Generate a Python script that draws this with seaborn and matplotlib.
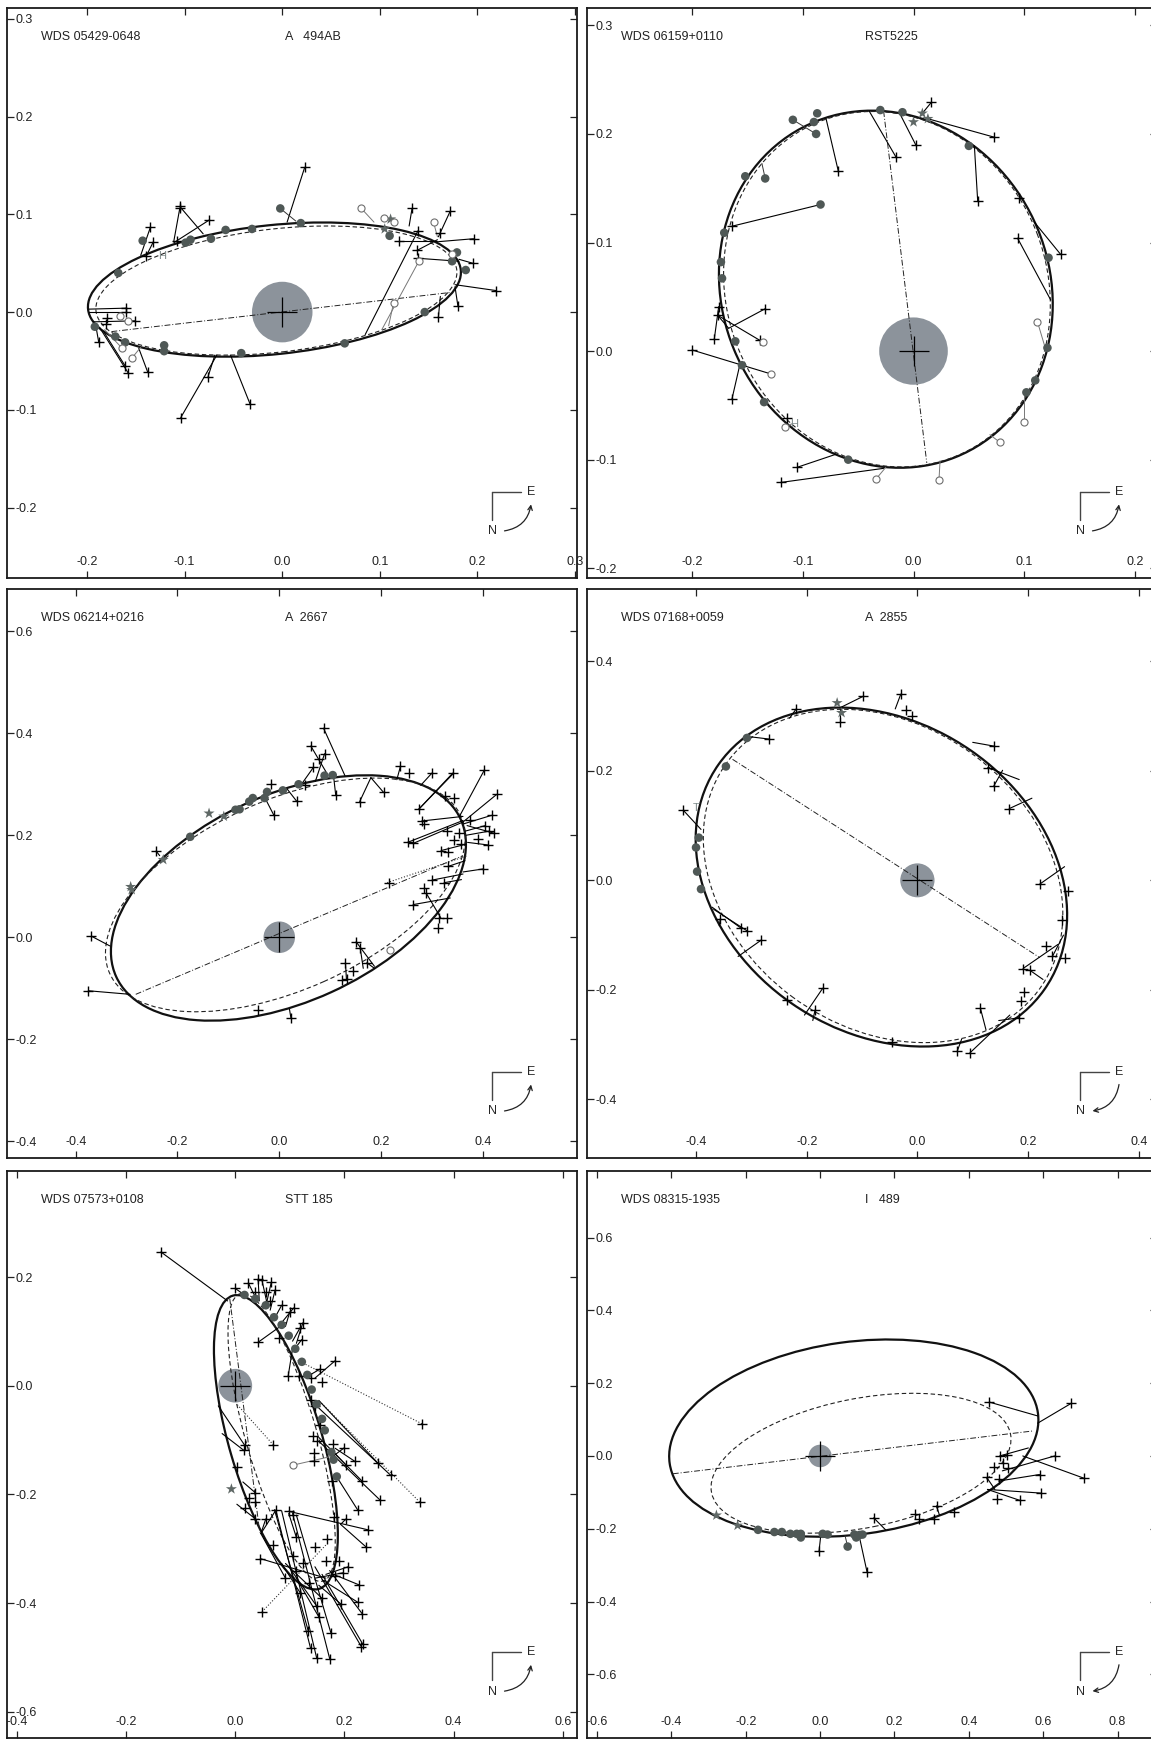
import matplotlib
matplotlib.use("Agg")
import matplotlib.pyplot as plt
import seaborn as sns
from matplotlib.patches import Ellipse, Circle, FancyArrowPatch

sns.set_style("ticks")
plt.rcParams['font.family'] = ['Liberation Sans', 'DejaVu Sans']
plt.rcParams['axes.unicode_minus'] = False

# ---- panel 1 : WDS 05429-0648  A 494AB ----
p1_orbit = (-0.008, 0.023, 0.384, 0.132, 6)
p1_old = (-0.006, 0.022, 0.372, 0.126, 6.5)
p1_nodes = [(-0.175, -0.020), (0.172, 0.020)]
p1_dots = [(-0.002, 0.106), (0.019, 0.091), (-0.031, 0.085), (-0.058, 0.084), (-0.073, 0.075),
           (-0.094, 0.074), (-0.099, 0.071), (-0.143, 0.073), (-0.168, 0.040), (-0.192, -0.015),
           (-0.171, -0.025), (-0.161, -0.031), (-0.121, -0.034), (-0.121, -0.040), (-0.042, -0.042),
           (0.064, -0.032), (0.146, 0.000), (0.110, 0.078), (0.179, 0.061), (0.174, 0.052), (0.188, 0.043)]
p1_dot_res = [(-0.002, 0.106, 0.014, 0.093)]
p1_rings = [(0.081, 0.106), (0.104, 0.096), (0.114, 0.092), (0.155, 0.092), (0.174, 0.059),
            (0.140, 0.052), (0.114, 0.009), (-0.166, -0.004), (-0.158, -0.009), (-0.164, -0.037),
            (-0.154, -0.047)]
p1_ring_res = [(0.081, 0.106, 0.094, 0.092), (0.155, 0.092, 0.159, 0.077), (0.140, 0.052, 0.102, -0.018),
               (0.114, 0.009, 0.109, -0.014), (-0.164, -0.037, -0.182, -0.018), (-0.154, -0.047, -0.145, -0.036)]
p1_stars = [(0.105, 0.085), (0.111, 0.095)]
p1_hip = [(-0.123, 0.057)]
p1_plus = [
    (0.023, 0.148, 0.005, 0.092), (-0.105, 0.108, -0.081, 0.080), (-0.105, 0.106, -0.111, 0.073),
    (-0.075, 0.094, -0.111, 0.071), (-0.135, 0.087, -0.145, 0.058), (-0.132, 0.072, -0.139, 0.058),
    (-0.140, 0.057, None, None), (-0.108, 0.073, None, None), (0.133, 0.106, 0.130, 0.088),
    (0.172, 0.103, 0.160, 0.077), (0.162, 0.081, None, None), (0.120, 0.073, 0.159, 0.073),
    (0.196, 0.075, 0.160, 0.072), (0.138, 0.063, 0.159, 0.074), (0.139, 0.055, 0.181, 0.052),
    (0.195, 0.050, 0.181, 0.054), (0.219, 0.022, 0.177, 0.028), (0.180, 0.006, 0.177, 0.026),
    (0.160, -0.005, 0.162, 0.016), (0.139, 0.083, 0.085, -0.023), (-0.160, 0.004, -0.198, 0.003),
    (-0.160, 0.000, -0.198, 0.000), (-0.151, -0.009, -0.194, -0.010), (-0.180, -0.006, None, None),
    (-0.181, -0.012, None, None), (-0.188, -0.031, -0.191, -0.014), (-0.161, -0.055, -0.183, -0.020),
    (-0.158, -0.062, -0.187, -0.016), (-0.138, -0.061, -0.147, -0.037), (-0.076, -0.066, -0.069, -0.044),
    (-0.104, -0.108, -0.067, -0.044), (-0.033, -0.094, -0.053, -0.044)]

# ---- panel 2 : WDS 06159+0110  RST5225 ----
p2_orbit = (-0.025, 0.057, 0.334, 0.296, 112)
p2_old = (-0.024, 0.057, 0.332, 0.290, 110)
p2_nodes = [(-0.027, 0.221), (0.012, -0.103)]
p2_dots = [(-0.109, 0.213), (-0.087, 0.219), (-0.090, 0.211), (-0.088, 0.200), (-0.030, 0.222),
           (-0.010, 0.220), (0.050, 0.189), (-0.152, 0.161), (-0.134, 0.159), (-0.084, 0.135),
           (-0.171, 0.109), (-0.174, 0.082), (-0.173, 0.067), (-0.161, 0.009), (-0.155, -0.013),
           (-0.135, -0.047), (-0.059, -0.100), (0.122, 0.086), (0.121, 0.003), (0.110, -0.027),
           (0.102, -0.038)]
p2_dot_res = [(-0.134, 0.159, -0.137, 0.173), (-0.109, 0.213, -0.088, 0.200)]
p2_rings = [(-0.136, 0.008), (-0.129, -0.021), (-0.116, -0.070), (-0.034, -0.118), (0.023, -0.119),
            (0.078, -0.084), (0.100, -0.065), (0.112, 0.027)]
p2_ring_res = [(-0.034, -0.118, -0.025, -0.107), (0.023, -0.119, 0.024, -0.101), (0.078, -0.084, 0.069, -0.077),
               (0.100, -0.065, 0.100, -0.040), (0.112, 0.027, 0.119, 0.003), (-0.116, -0.070, -0.110, -0.067)]
p2_stars = [(0.008, 0.219), (0.000, 0.211), (0.013, 0.214)]
p2_hip = [(-0.108, -0.067)]
p2_plus = [
    (0.016, 0.229, 0.008, 0.219), (0.002, 0.190, -0.013, 0.220), (-0.016, 0.179, -0.040, 0.221),
    (-0.068, 0.166, -0.079, 0.214), (0.073, 0.197, 0.013, 0.214), (0.058, 0.138, 0.055, 0.189),
    (0.095, 0.141, None, None), (0.133, 0.089, 0.109, 0.119), (0.094, 0.104, 0.124, 0.047),
    (-0.164, 0.115, -0.084, 0.135), (-0.176, 0.041, None, None), (-0.177, 0.033, -0.167, 0.021),
    (-0.180, 0.011, -0.176, 0.041), (-0.134, 0.039, -0.167, 0.021), (-0.139, 0.010, -0.177, 0.033),
    (-0.200, 0.001, -0.129, -0.021), (-0.164, -0.044, -0.157, -0.013), (-0.114, -0.062, None, None),
    (-0.105, -0.107, -0.070, -0.095), (-0.120, -0.121, -0.027, -0.108)]

# ---- panel 3 : WDS 06214+0216  A 2667 ----
p3_orbit = (0.018, 0.077, 0.744, 0.406, 24.5)
p3_old = (0.012, 0.083, 0.756, 0.372, 24)
p3_nodes = [(-0.282, -0.112), (0.361, 0.160)]
p3_dotted = [(0.212, 0.107, 0.370, 0.160)]
p3_dots = [(-0.175, 0.197), (-0.086, 0.250), (-0.078, 0.251), (-0.059, 0.266), (-0.052, 0.273),
           (-0.029, 0.273), (-0.024, 0.285), (0.007, 0.288), (0.038, 0.300), (0.089, 0.317), (0.105, 0.318)]
p3_rings = [(0.217, -0.026)]
p3_stars = [(-0.138, 0.243), (-0.109, 0.237), (-0.228, 0.152), (-0.292, 0.099), (-0.290, 0.093)]
p3_plus = [
    (0.087, 0.410, 0.129, 0.317), (0.062, 0.375, 0.092, 0.324), (0.089, 0.360, 0.071, 0.306),
    (0.067, 0.333, 0.045, 0.302), (0.078, 0.349, None, None), (-0.017, 0.301, None, None),
    (-0.011, 0.240, -0.028, 0.273), (0.034, 0.267, 0.016, 0.290), (0.111, 0.278, 0.107, 0.313),
    (0.051, 0.298, None, None), (0.158, 0.266, 0.180, 0.313), (0.205, 0.284, 0.180, 0.313),
    (0.238, 0.335, 0.231, 0.309), (0.255, 0.322, None, None), (0.300, 0.322, 0.278, 0.298),
    (0.341, 0.322, 0.274, 0.251), (0.274, 0.251, 0.341, 0.320), (0.325, 0.277, None, None),
    (0.343, 0.273, None, None), (0.403, 0.328, 0.354, 0.237), (0.427, 0.280, 0.361, 0.226),
    (0.417, 0.239, 0.361, 0.222), (0.280, 0.228, 0.361, 0.237), (0.285, 0.222, None, None),
    (0.375, 0.229, None, None), (0.252, 0.186, 0.361, 0.229), (0.263, 0.184, 0.361, 0.226),
    (0.329, 0.208, None, None), (0.354, 0.204, None, None), (0.405, 0.219, 0.365, 0.208),
    (0.412, 0.208, 0.367, 0.200), (0.422, 0.204, 0.369, 0.219), (0.391, 0.193, None, None),
    (0.410, 0.181, 0.370, 0.186), (0.343, 0.190, None, None), (0.318, 0.170, 0.365, 0.182),
    (0.358, 0.182, None, None), (0.332, 0.168, None, None), (0.401, 0.134, 0.361, 0.128),
    (0.332, 0.139, 0.365, 0.150), (0.300, 0.112, 0.361, 0.124), (0.324, 0.107, 0.358, 0.113),
    (0.215, 0.107, None, None), (0.263, 0.064, 0.336, 0.077), (0.284, 0.097, None, None),
    (0.289, 0.086, 0.318, 0.037), (0.329, 0.038, None, None), (0.311, 0.019, None, None),
    (0.313, 0.038, None, None), (0.151, -0.009, 0.187, -0.057), (0.159, -0.021, 0.165, -0.061),
    (0.130, -0.050, 0.132, -0.083), (0.145, -0.067, None, None), (0.172, -0.050, 0.187, -0.061),
    (0.134, -0.081, None, None), (0.124, -0.083, None, None), (-0.041, -0.143, None, None),
    (0.023, -0.159, 0.020, -0.141), (-0.369, 0.002, -0.333, -0.017), (-0.375, -0.105, -0.293, -0.112),
    (-0.242, 0.169, -0.235, 0.160)]

# ---- panel 4 : WDS 07168+0059  A 2855 ----
p4_orbit = (-0.065, 0.006, 0.718, 0.564, -35)
p4_old = (-0.062, 0.008, 0.700, 0.550, -37)
p4_nodes = [(-0.334, 0.221), (0.221, -0.141)]
p4_dots = [(-0.308, 0.260), (-0.346, 0.208), (-0.395, 0.078), (-0.400, 0.060), (-0.398, 0.016), (-0.391, -0.016)]
p4_stars = [(-0.145, 0.324), (-0.137, 0.306)]
p4_tmark = [(-0.400, 0.133)]
p4_plus = [
    (-0.098, 0.336, -0.140, 0.315), (-0.030, 0.340, -0.040, 0.313), (-0.219, 0.313, -0.231, 0.296),
    (-0.268, 0.258, -0.301, 0.262), (-0.140, 0.289, -0.140, 0.313), (-0.020, 0.311, None, None),
    (-0.009, 0.300, None, None), (0.139, 0.245, 0.100, 0.252), (0.127, 0.206, 0.184, 0.184),
    (0.138, 0.172, 0.154, 0.201), (0.166, 0.131, 0.207, 0.150), (0.221, -0.007, 0.266, 0.025),
    (0.272, -0.019, None, None), (0.261, -0.073, None, None), (0.233, -0.119, None, None),
    (0.244, -0.139, 0.264, -0.100), (0.266, -0.141, None, None), (0.191, -0.161, 0.254, -0.117),
    (0.203, -0.164, 0.227, -0.181), (0.192, -0.203, None, None), (0.187, -0.221, None, None),
    (0.184, -0.251, 0.147, -0.256), (0.114, -0.234, 0.124, -0.273), (0.072, -0.312, 0.080, -0.290),
    (0.095, -0.315, 0.167, -0.246), (-0.045, -0.296, None, None), (-0.171, -0.197, -0.204, -0.246),
    (-0.185, -0.237, -0.189, -0.256), (-0.235, -0.219, None, None), (-0.282, -0.109, -0.324, -0.139),
    (-0.319, -0.087, -0.371, -0.049), (-0.308, -0.092, -0.368, -0.053), (-0.356, -0.070, -0.358, -0.083),
    (-0.423, 0.128, -0.391, 0.093)]

# ---- panel 5 : WDS 07573+0108  STT 185 ----
p5_orbit = (0.0745, -0.104, 0.562, 0.170, 106.3)
p5_old = (0.085, -0.095, 0.550, 0.130, 106)
p5_nodes = [(-0.010, 0.160), (0.045, -0.270)]
p5_dotted = [(0.342, -0.070, 0.112, 0.048), (0.338, -0.214, 0.153, -0.027),
             (0.049, -0.416, 0.166, -0.293), (0.070, -0.109, 0.003, -0.034)]
p5_dots = [(0.017, 0.167), (0.037, 0.160), (0.056, 0.148), (0.071, 0.126), (0.085, 0.112), (0.098, 0.092),
           (0.110, 0.068), (0.122, 0.044), (0.132, 0.020), (0.140, -0.007), (0.149, -0.034), (0.159, -0.061),
           (0.164, -0.082), (0.176, -0.122), (0.180, -0.136), (0.186, -0.167)]
p5_rings = [(0.106, -0.146)]
p5_ring_res = [(0.106, -0.146, 0.180, -0.129)]
p5_stars = [(-0.007, -0.190)]
p5_plus = [
    (-0.136, 0.246, -0.014, 0.156), (0.000, 0.179, 0.017, 0.167), (0.024, 0.189, 0.037, 0.163),
    (0.042, 0.196, 0.044, 0.156), (0.049, 0.194, 0.058, 0.153), (0.066, 0.190, 0.056, 0.146),
    (0.073, 0.176, 0.064, 0.139), (0.056, 0.172, None, None), (0.037, 0.173, None, None),
    (0.063, 0.155, None, None), (0.085, 0.148, 0.071, 0.122), (0.107, 0.143, 0.085, 0.116),
    (0.100, 0.136, 0.092, 0.109), (0.124, 0.116, 0.112, 0.078), (0.119, 0.107, 0.105, 0.082),
    (0.081, 0.087, None, None), (0.122, 0.085, 0.112, 0.072), (0.042, 0.080, 0.092, 0.116),
    (0.097, 0.018, 0.105, 0.068), (0.117, 0.018, None, None), (0.138, 0.014, None, None),
    (0.156, 0.031, 0.132, 0.017), (0.183, 0.046, 0.146, 0.014), (0.159, 0.007, None, None),
    (0.017, -0.109, -0.031, -0.037), (0.016, -0.119, -0.024, -0.088), (0.138, -0.027, None, None),
    (0.146, -0.037, None, None), (0.156, -0.073, None, None), (0.142, -0.092, None, None),
    (0.149, -0.102, None, None), (0.180, -0.107, None, None), (0.200, -0.114, 0.180, -0.129),
    (0.144, -0.124, None, None), (0.144, -0.139, None, None), (0.203, -0.146, 0.180, -0.122),
    (0.219, -0.139, 0.183, -0.115), (0.262, -0.143, 0.153, -0.027), (0.285, -0.165, 0.153, -0.041),
    (0.178, -0.176, None, None), (0.233, -0.176, 0.153, -0.095), (0.266, -0.211, 0.153, -0.102),
    (0.224, -0.228, 0.183, -0.163), (0.037, -0.197, 0.014, -0.177), (0.025, -0.207, None, None),
    (0.036, -0.214, None, None), (0.018, -0.224, None, None), (0.037, -0.245, 0.003, -0.218),
    (0.056, -0.245, 0.047, -0.272), (0.003, -0.150, None, None), (0.243, -0.265, 0.098, -0.231),
    (0.239, -0.296, 0.193, -0.255), (0.181, -0.241, None, None), (0.203, -0.245, 0.193, -0.255),
    (0.169, -0.282, None, None), (0.075, -0.228, 0.047, -0.272), (0.098, -0.231, None, None),
    (0.105, -0.238, None, None), (0.138, -0.483, 0.075, -0.231), (0.149, -0.500, 0.085, -0.230),
    (0.173, -0.502, 0.105, -0.235), (0.134, -0.452, 0.072, -0.228), (0.175, -0.454, 0.112, -0.238),
    (0.234, -0.476, 0.159, -0.347), (0.231, -0.480, 0.146, -0.333), (0.224, -0.398, 0.159, -0.357),
    (0.233, -0.420, 0.173, -0.340), (0.226, -0.366, 0.180, -0.347), (0.193, -0.401, 0.153, -0.367),
    (0.153, -0.425, 0.112, -0.354), (0.149, -0.405, 0.098, -0.333), (0.159, -0.391, 0.092, -0.327),
    (0.119, -0.381, 0.085, -0.327), (0.136, -0.363, None, None), (0.092, -0.354, 0.047, -0.272),
    (0.112, -0.340, None, None), (0.125, -0.327, None, None), (0.207, -0.333, 0.166, -0.347),
    (0.046, -0.318, 0.166, -0.354), (0.070, -0.293, None, None), (0.105, -0.313, None, None),
    (0.112, -0.279, 0.098, -0.235), (0.146, -0.296, None, None), (0.166, -0.323, None, None),
    (0.190, -0.323, None, None), (0.198, -0.344, 0.146, -0.354), (0.183, -0.350, None, None)]

# ---- panel 6 : WDS 08315-1935  I 489 ----
p6_orbit = (0.0905, 0.049, 1.0, 0.529, 8)
p6_old = (0.11, -0.02, 0.82, 0.355, 11.5)
p6_nodes = [(-0.396, -0.049), (0.575, 0.069)]
p6_dots = [(-0.167, -0.203), (-0.123, -0.209), (-0.103, -0.209), (-0.080, -0.214), (-0.063, -0.214),
           (-0.052, -0.224), (-0.052, -0.214), (0.007, -0.214), (0.020, -0.216), (0.074, -0.249),
           (0.097, -0.224), (0.106, -0.217), (0.114, -0.216), (0.092, -0.216)]
p6_dot_res = [(0.074, -0.249, 0.067, -0.219)]
p6_stars = [(-0.279, -0.163), (-0.222, -0.191)]
p6_plus = [
    (-0.003, -0.262, 0.002, -0.216), (0.126, -0.318, 0.107, -0.229), (0.144, -0.170, 0.176, -0.203),
    (0.256, -0.160, None, None), (0.266, -0.173, None, None), (0.313, -0.137, 0.321, -0.163),
    (0.306, -0.173, None, None), (0.361, -0.153, None, None), (0.455, 0.148, 0.585, 0.110),
    (0.676, 0.145, 0.585, 0.090), (0.483, 0.000, 0.560, 0.022), (0.502, 0.003, None, None),
    (0.631, 0.000, 0.490, -0.041), (0.709, -0.061, 0.545, 0.000), (0.468, -0.031, None, None),
    (0.493, -0.020, None, None), (0.505, -0.034, None, None), (0.448, -0.059, 0.470, -0.092),
    (0.480, -0.063, None, None), (0.590, -0.051, 0.480, -0.069), (0.593, -0.102, 0.450, -0.092),
    (0.537, -0.122, 0.450, -0.092), (0.477, -0.117, None, None)]

# axis ranges / ticks / labels
names = ["WDS 05429-0648", "WDS 06159+0110", "WDS 06214+0216", "WDS 07168+0059", "WDS 07573+0108", "WDS 08315-1935"]
discoverers = ["A   494AB", "RST5225", "A  2667", "A  2855", "STT 185", "I   489"]
xlims = [(-0.282, 0.302), (-0.295, 0.220), (-0.535, 0.585), (-0.597, 0.433), (-0.418, 0.626), (-0.627, 0.906)]
ylims = [(-0.272, 0.311), (-0.209, 0.316), (-0.433, 0.683), (-0.507, 0.532), (-0.648, 0.395), (-0.775, 0.783)]
xticks = [[-0.2, -0.1, 0.0, 0.1, 0.2, 0.3], [-0.2, -0.1, 0.0, 0.1, 0.2], [-0.4, -0.2, 0.0, 0.2, 0.4],
          [-0.4, -0.2, 0.0, 0.2, 0.4], [-0.4, -0.2, 0.0, 0.2, 0.4, 0.6], [-0.6, -0.4, -0.2, 0.0, 0.2, 0.4, 0.6, 0.8]]
yticks = [[-0.2, -0.1, 0.0, 0.1, 0.2, 0.3], [-0.2, -0.1, 0.0, 0.1, 0.2, 0.3], [-0.4, -0.2, 0.0, 0.2, 0.4, 0.6],
          [-0.4, -0.2, 0.0, 0.2, 0.4], [-0.6, -0.4, -0.2, 0.0, 0.2], [-0.6, -0.4, -0.2, 0.0, 0.2, 0.4, 0.6]]
arrow_to_north = [False, False, False, True, False, True]

panels = [
    dict(orbit=p1_orbit, old=p1_old, nodes=p1_nodes, dots=p1_dots, dot_res=p1_dot_res, rings=p1_rings,
         ring_res=p1_ring_res, stars=p1_stars, hip=p1_hip, plus=p1_plus),
    dict(orbit=p2_orbit, old=p2_old, nodes=p2_nodes, dots=p2_dots, dot_res=p2_dot_res, rings=p2_rings,
         ring_res=p2_ring_res, stars=p2_stars, hip=p2_hip, plus=p2_plus),
    dict(orbit=p3_orbit, old=p3_old, nodes=p3_nodes, dotted=p3_dotted, dots=p3_dots, rings=p3_rings,
         stars=p3_stars, plus=p3_plus),
    dict(orbit=p4_orbit, old=p4_old, nodes=p4_nodes, dots=p4_dots, stars=p4_stars, tmark=p4_tmark, plus=p4_plus),
    dict(orbit=p5_orbit, old=p5_old, nodes=p5_nodes, dotted=p5_dotted, dots=p5_dots, rings=p5_rings,
         ring_res=p5_ring_res, stars=p5_stars, plus=p5_plus),
    dict(orbit=p6_orbit, old=p6_old, nodes=p6_nodes, dots=p6_dots, dot_res=p6_dot_res, stars=p6_stars, plus=p6_plus),
]

W, H = 1151, 1741
fig = plt.figure(figsize=(W / 100, H / 100), dpi=100)
col_left = [7, 587]
rows = [(8, 570), (589, 569), (1171, 567)]

DOT = '#4f5856'
STAR = '#5f6866'
DISK = '#8c939b'


def segments(ax, items, color='black', lw=0.8, ls='-'):
    for x, y, ex, ey in items:
        if ex is None:
            continue
        ax.plot([x, ex], [y, ey], color=color, lw=lw, ls=ls, zorder=3)


def compass(ax, x0, y0, to_north):
    kw = dict(transform=ax.transAxes, color='#444444', lw=1.0)
    ax.plot([x0, x0], [y0, y0 - 0.049], **kw)
    ax.plot([x0, x0 + 0.05], [y0, y0], **kw)
    ax.text(x0 + 0.069, y0, 'E', transform=ax.transAxes, ha='center', va='center', fontsize=9)
    ax.text(x0 + 0.001, y0 - 0.069, 'N', transform=ax.transAxes, ha='center', va='center', fontsize=9)
    a, b = (x0 + 0.017, y0 - 0.069), (x0 + 0.069, y0 - 0.017)
    if to_north:
        arr = FancyArrowPatch(b, a, connectionstyle='arc3,rad=-0.4', arrowstyle='->', mutation_scale=8,
                              transform=ax.transAxes, color='#222222', lw=0.9)
    else:
        arr = FancyArrowPatch(a, b, connectionstyle='arc3,rad=0.4', arrowstyle='->', mutation_scale=8,
                              transform=ax.transAxes, color='#222222', lw=0.9)
    ax.add_patch(arr)


for i, p in enumerate(panels):
    r, c = divmod(i, 2)
    top, h = rows[r]
    ax = fig.add_axes([col_left[c] / W, (H - top - h) / H, 570 / W, h / H])
    ax.set_xlim(*xlims[i])
    ax.set_ylim(*ylims[i])

    ax.add_patch(Circle((0, 0), 0.031, color=DISK, lw=0, zorder=1))
    ax.plot([0], [0], marker='+', ms=22, mew=0.9, color='black', zorder=5)

    cx, cy, w, hh, ang = p['orbit']
    ax.add_patch(Ellipse((cx, cy), w, hh, angle=ang, fill=False, ec='#111111', lw=1.6, zorder=2))
    cx, cy, w, hh, ang = p['old']
    ax.add_patch(Ellipse((cx, cy), w, hh, angle=ang, fill=False, ec='#222222', lw=0.8,
                         ls=(0, (4, 2.5)), zorder=2))
    (nx0, ny0), (nx1, ny1) = p['nodes']
    ax.plot([nx0, nx1], [ny0, ny1], color='#222222', lw=0.7, ls=(0, (6, 2, 1, 2)), zorder=2)
    segments(ax, p.get('dotted', []), color='#333333', lw=0.8, ls=':')

    segments(ax, p['plus'])
    segments(ax, p.get('dot_res', []), color='#333333', lw=0.7)
    segments(ax, p.get('ring_res', []), color='#777777', lw=0.7)

    # plus marks: residual-line observations plus the ones joined by dotted lines
    marks = p['plus'] + (p5_dotted if i == 4 else [])
    sns.scatterplot(x=[t[0] for t in marks], y=[t[1] for t in marks], ax=ax, marker='+', s=45,
                    color='black', linewidth=1.0, zorder=4, legend=False)

    if p.get('dots'):
        sns.scatterplot(x=[d[0] for d in p['dots']], y=[d[1] for d in p['dots']], ax=ax, marker='o', s=38,
                        color=DOT, edgecolor='none', zorder=4, legend=False)
    if p.get('stars'):
        sns.scatterplot(x=[d[0] for d in p['stars']], y=[d[1] for d in p['stars']], ax=ax, marker='*', s=70,
                        color=STAR, edgecolor='none', zorder=4, legend=False)
    if p.get('rings'):
        ax.scatter([d[0] for d in p['rings']], [d[1] for d in p['rings']], marker='o', s=26,
                   facecolors='white', edgecolors='#6e6e6e', linewidths=0.8, zorder=4)
    for hx, hy in p.get('hip', []):
        ax.text(hx, hy, 'H', color='#7d8a8a', fontsize=8, ha='center', va='center', zorder=4)
    for tx, ty in p.get('tmark', []):
        ax.text(tx, ty, 'T', color='#7d8a8a', fontsize=8, ha='center', va='center', zorder=4)

    # frame and ticks (labels drawn inside the box)
    ax.set_xticks(xticks[i])
    ax.set_yticks(yticks[i])
    ax.set_xticklabels(['%.1f' % v for v in xticks[i]])
    ax.set_yticklabels(['%.1f' % v for v in yticks[i]])
    ax.tick_params(direction='in', length=5, width=0.9, top=True, right=True, labelsize=9,
                   color='#222222', labelcolor='#222222')
    ax.tick_params(axis='y', pad=-6)
    ax.tick_params(axis='x', pad=-7.5)
    for lbl in ax.get_yticklabels():
        lbl.set_horizontalalignment('left')
    for lbl in ax.get_xticklabels():
        lbl.set_verticalalignment('bottom')
    for s in ax.spines.values():
        s.set_color('#1a1a1a')
        s.set_linewidth(1.3)
    ax.set_xlabel('')
    ax.set_ylabel('')

    ax.text(0.06, 0.949, names[i], transform=ax.transAxes, fontsize=9, ha='left', va='center', color='#222222')
    ax.text(0.487, 0.949, discoverers[i], transform=ax.transAxes, fontsize=9, ha='left', va='center',
            color='#222222')
    compass(ax, 0.851 if c == 0 else 0.865, 0.151, arrow_to_north[i])

fig.savefig('out.png', dpi=100)
